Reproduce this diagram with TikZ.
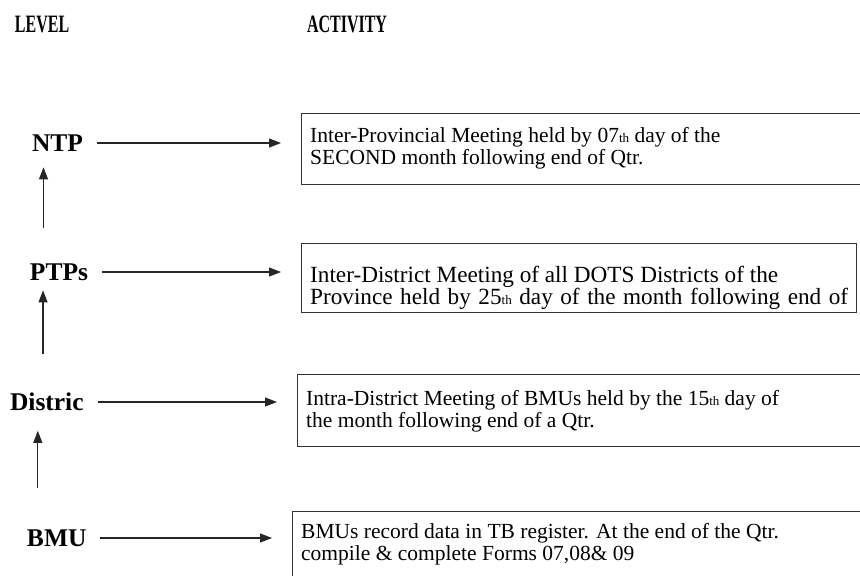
\documentclass[tikz,border=0pt]{standalone}
\usepackage{fontspec}
\setmainfont{Liberation Serif}
\usetikzlibrary{arrows.meta}
\newcommand{\boxfontsize}{21.5pt}
\newcommand{\ordinal}[1]{{\fontsize{13pt}{13pt}\selectfont #1}}
\newcommand{\narrow}[1]{\scalebox{0.64}[1]{#1}}
\tikzstyle{rank}=[font=\fontsize{25.5pt}{27pt}\selectfont\bfseries, anchor=west, inner sep=0, outer sep=0, text depth=0pt]
\tikzstyle{heading}=[rank, font=\fontsize{25pt}{26pt}\selectfont\bfseries, anchor=base west]
\tikzstyle{actbox}=[draw=black!80, line width=1.2pt, anchor=north west, inner sep=0]
\tikzstyle{acttext}=[anchor=north west, align=left, inner sep=0, font=\fontsize{\boxfontsize}{22pt}\selectfont]
\tikzstyle{flow}=[draw=black!85, line width=1.1pt, -{Triangle[length=12pt, width=9pt]}]
\tikzstyle{levelchart}=[x=1pt, y=-1pt,
                        % Arrows keep clear of the texts.
                        every path/.style={shorten <=14pt, shorten >=20pt}]

\begin{document}
\begin{tikzpicture}[levelchart]
    \useasboundingbox (0, 0) rectangle (860, 576);
    \node[heading] (level) at (15, 32) {\narrow{LEVEL}};
    \node[heading] (activity) at (307, 32) {\narrow{ACTIVITY}};

    \node[rank] (ntp) at (32, 143) {NTP};
    \node[rank] (ptps) at (30, 272) {PTPs};
    \node[rank] (distric) at (10, 402) {Distric};
    \node[rank] (bmu) at (27, 538) {BMU};

    \node[actbox, minimum width=580, minimum height=71] (boxntp) at (301, 113) {};
    \node[actbox, minimum width=555, minimum height=69] (boxptps) at (301, 243) {};
    \node[actbox, minimum width=580, minimum height=72] (boxdistric) at (297, 374) {};
    \node[actbox, minimum width=600, minimum height=100] (boxbmu) at (292, 511) {};

    \node[acttext] (txtntp) at (310, 127)
        {Inter-Provincial Meeting held by 07\ordinal{th} day of the\\SECOND month following end of Qtr.};
    \node[acttext, font=\fontsize{23.2pt}{22pt}\selectfont] (txtptps) at (310, 266)
        {Inter-District Meeting of all DOTS Districts of the\\\makebox[538pt][s]{Province held by 25\ordinal{th} day of the month following end of}};
    \node[acttext] (txtdistric) at (306, 390)
        {Intra-District Meeting of BMUs held by the 15\ordinal{th} day of\\the month following end of a Qtr.};
    \node[acttext] (txtbmu) at (301, 523)
        {BMUs record data in TB register. At the end of the Qtr.\\compile \& complete Forms 07,08\& 09};

    \draw[flow] (ntp) -- (boxntp.west |- ntp);
    \draw[flow] (ptps) -- (boxptps.west |- ptps);
    \draw[flow] (distric) -- (boxdistric.west |- distric);
    \draw[flow] (bmu) -- (boxbmu.west |- bmu);

    \draw[flow, shorten <=36pt, shorten >=16pt] ([xshift=-14pt]ptps.north -| ntp.center) -- ([xshift=-14pt]ntp.south);
    \draw[flow, shorten <=39pt, shorten >=10pt] ([xshift=-16pt]distric.north -| ptps.center) -- ([xshift=-16pt]ptps.south);
    \draw[flow, shorten <=42pt, shorten >=20pt] ([xshift=-9pt]bmu.north -| distric.center) -- ([xshift=-9pt]distric.south);
\end{tikzpicture}
\end{document}
